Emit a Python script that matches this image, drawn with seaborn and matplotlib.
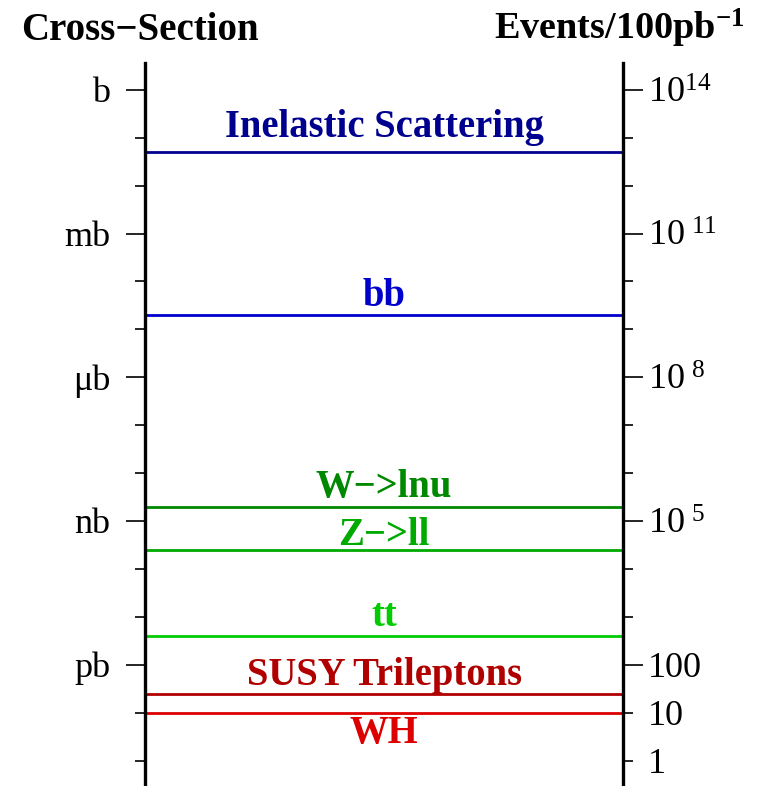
import numpy as np
import pandas as pd
import seaborn as sns
import matplotlib.pyplot as plt
from matplotlib.ticker import FixedLocator, FixedFormatter, NullFormatter

# secciones eficaces (en pb)
procesos = ["Inelastic Scattering", "bb", "W\u2212>lnu", "Z\u2212>ll", "tt",
            "SUSY Trileptons", "WH"]
sigma_pb = [5.0e10, 2.0e7, 1.95e3, 250, 4.0, 0.25, 0.1]
colores = ["#00008f", "#0000cc", "#008800", "#00aa00", "#00cc00", "#b00000", "#dd0000"]

# eje izquierdo: unidades de sección eficaz (en pb)
left_ticks_pb = [1e12, 1e9, 1e6, 1e3, 1]
left_labels = ["b", "mb", "\u03bcb", "nb", "pb"]

# eje derecho: eventos por 100 pb^-1
lumi = 100
right_ticks = [1e14, 1e11, 1e8, 1e5, 100]
right_labels = ["10$^{14}$", "10$^{\\;11}$", "10$^{\\;8}$", "10$^{\\;5}$", "100"]
right_minor_ticks = [10, 1]
right_minor_labels = ["10", "1"]

# desplazamiento de las etiquetas respecto a su línea (pixeles)
label_offsets = [15, 9, 10.6, 5, 10, 9, -30.3]

sns.set_style("ticks")
plt.rcParams["font.family"] = ["Liberation Serif", "DejaVu Serif"]
plt.rcParams["mathtext.default"] = "regular"
plt.rcParams["text.color"] = "black"

fig = plt.figure(figsize=(7.62, 7.86), dpi=100)
ax = fig.add_axes([0.1903, 0.0, 0.6277, 0.9198])
ax.set_yscale("log")

df = pd.DataFrame({
    "proceso": np.repeat(procesos, 2),
    "x": [0, 1] * len(procesos),
    "sigma": np.repeat(sigma_pb, 2),
})
sns.lineplot(data=df, x="x", y="sigma", hue="proceso",
             palette=dict(zip(procesos, colores)), estimator=None,
             legend=False, linewidth=2.0, ax=ax)

ylo, yhi = 10 ** -2.532, 10 ** 12.56
ax.set_xlim(0, 1)
ax.set_ylim(ylo, yhi)
ax.xaxis.set_visible(False)
ax.set_xlabel("")
ax.set_ylabel("")

# etiquetas de cada proceso
for nombre, s, c, off in zip(procesos, sigma_pb, colores, label_offsets):
    ax.annotate(nombre, xy=(0.5, s), xycoords=ax.get_yaxis_transform(),
                xytext=(0, off), textcoords="offset pixels",
                ha="center", va="baseline", fontsize=27.8, fontweight="bold", color=c)

ax.yaxis.set_major_locator(FixedLocator(left_ticks_pb))
ax.yaxis.set_major_formatter(FixedFormatter(left_labels))
ax.yaxis.set_minor_locator(FixedLocator([10.0 ** k for k in range(-2, 13)]))
ax.yaxis.set_minor_formatter(NullFormatter())
ax.tick_params(axis="y", which="major", length=13.7, width=1.2, pad=11.5,
               labelsize=26, color="black", labelcolor="black", direction="out")
ax.tick_params(axis="y", which="minor", length=7.2, width=1.2,
               color="black", direction="out")

ax2 = ax.twinx()
ax2.set_yscale("log")
ax2.set_ylim(ylo * lumi, yhi * lumi)
ax2.yaxis.set_major_locator(FixedLocator(right_ticks))
ax2.yaxis.set_major_formatter(FixedFormatter(right_labels))
minor_locs = [10.0 ** k for k in range(0, 15) if 10.0 ** k not in right_ticks]
ax2.yaxis.set_minor_locator(FixedLocator(minor_locs))
ax2.yaxis.set_minor_formatter(FixedFormatter(
    [right_minor_labels[right_minor_ticks.index(v)] if v in right_minor_ticks else ""
     for v in minor_locs]))
ax2.tick_params(axis="y", which="major", length=14.4, width=1.2, pad=3.6,
                labelsize=26, color="black", labelcolor="black", direction="out")
ax2.tick_params(axis="y", which="minor", length=7.2, width=1.2, pad=10.8,
                labelsize=26, color="black", labelcolor="black", direction="out")

for a in (ax, ax2):
    for lado in ("top", "bottom"):
        a.spines[lado].set_visible(False)
    for lado in ("left", "right"):
        a.spines[lado].set_linewidth(2.4)
        a.spines[lado].set_color("black")
ax2.spines["left"].set_visible(False)
ax.spines["right"].set_visible(False)

fig.text(139.5 / 762, 1 - 40 / 786, "Cross\u2212Section", ha="center", va="baseline",
         fontsize=28, fontweight="bold", color="black")
fig.text(745 / 762, 1 - 40 / 786, "Events/100pb$^{-1}$", ha="right", va="baseline",
         fontsize=27.5, fontweight="bold", color="black")

fig.savefig("out.png", dpi=100)
